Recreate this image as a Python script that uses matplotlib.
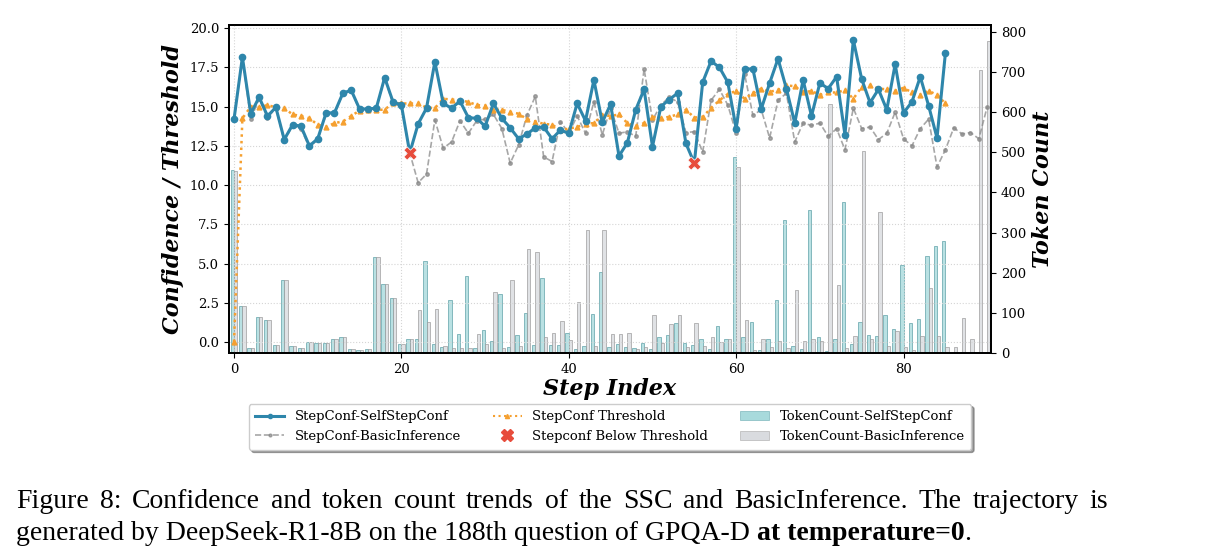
import matplotlib
matplotlib.use("Agg")
import matplotlib.pyplot as plt
from matplotlib.lines import Line2D
from matplotlib.patches import Patch
import numpy as np

# confidence per step (left axis)
conf_ssc = [14.2, 18.15, 14.55, 15.6, 14.4, 14.95, 12.9, 13.85, 13.75, 12.5,
            12.95, 14.6, 14.6, 15.85, 16.05, 14.85, 14.85, 14.9, 16.85, 15.3,
            15.1, 12.05, 13.9, 14.9, 17.85, 15.2, 14.9, 15.35, 14.3, 14.25,
            13.75, 15.2, 14.25, 13.65, 12.95, 13.25, 13.65, 13.7, 12.95, 13.5,
            13.3, 15.2, 14.1, 16.7, 14.0, 15.15, 11.85, 12.7, 14.8, 16.1,
            12.45, 15.0, 15.45, 15.85, 12.65, 11.4, 16.55, 17.9, 17.5, 16.55,
            13.6, 17.4, 17.4, 14.85, 16.5, 18.05, 16.15, 13.95, 16.7, 14.4,
            16.5, 16.15, 16.9, 13.2, 19.25, 16.75, 15.25, 16.1, 14.8, 17.7,
            14.6, 15.3, 16.9, 15.05, 13.0, 18.4]
conf_basic = [14.2, 18.1, 14.2, 15.5, 14.3, 14.9, 12.8, 13.8, 13.6, 12.4,
              12.9, 14.5, 14.6, 15.8, 16.0, 14.8, 14.8, 14.9, 16.8, 15.2,
              15.0, 12.05, 10.15, 10.7, 14.15, 12.35, 12.75, 14.1, 13.3, 14.1,
              14.2, 14.5, 13.6, 11.4, 12.55, 14.45, 15.65, 11.8, 11.5, 14.05,
              13.3, 14.4, 13.3, 15.3, 13.2, 14.9, 13.3, 13.4, 13.1, 17.4,
              14.15, 15.1, 15.6, 15.3, 13.35, 13.4, 12.1, 15.4, 16.1, 15.1,
              13.3, 17.1, 14.45, 14.8, 13.0, 15.4, 15.85, 12.75, 13.95, 13.8,
              13.95, 13.1, 13.6, 12.25, 14.9, 13.6, 13.7, 12.9, 13.3, 14.65,
              12.95, 12.5, 13.6, 14.2, 11.15, 12.25, 13.65, 13.25, 13.35, 12.95,
              15.0]
threshold = [0.0, 14.25, 15.0, 14.95, 15.1, 14.95, 14.9, 14.5, 14.4, 14.25,
             13.85, 13.7, 13.95, 14.05, 14.4, 14.75, 14.8, 14.8, 14.8, 15.25,
             15.2, 15.2, 15.2, 14.95, 14.9, 15.5, 15.45, 15.4, 15.3, 15.1,
             15.05, 14.8, 14.8, 14.65, 14.55, 14.2, 14.05, 13.9, 13.85, 13.5,
             13.6, 13.7, 13.9, 13.95, 14.45, 14.4, 14.5, 13.95, 13.75, 13.95,
             14.35, 14.25, 14.35, 14.5, 14.8, 14.3, 14.35, 14.9, 15.4, 15.8,
             16.0, 15.5, 15.85, 16.15, 15.95, 16.05, 16.35, 16.3, 15.9, 16.0,
             15.75, 15.9, 15.9, 16.05, 15.5, 16.25, 16.35, 16.15, 16.1, 16.0,
             16.2, 15.9, 15.75, 16.0, 15.75, 15.2]
below_steps = [21, 55]

# token counts per step (right axis)
tok_ssc = [456, 116, 12, 89, 81, 20, 181, 17, 12, 27,
           24, 26, 35, 41, 9, 8, 9, 238, 173, 136,
           22, 36, 36, 229, 22, 16, 132, 47, 193, 12,
           57, 30, 146, 14, 45, 99, 20, 186, 20, 20,
           51, 9, 17, 97, 201, 15, 22, 15, 12, 25,
           10, 40, 45, 75, 26, 20, 36, 9, 67, 34,
           489, 40, 76, 7, 36, 132, 332, 17, 9, 355,
           41, 5, 35, 375, 22, 76, 46, 42, 94, 61,
           220, 74, 84, 241, 267, 279]
tok_basic = [453, 116, 12, 89, 81, 20, 181, 17, 12, 27,
             24, 26, 35, 41, 9, 8, 9, 238, 173, 136,
             22, 36, 108, 77, 109, 17, 12, 12, 12, 47,
             22, 152, 12, 181, 17, 258, 251, 39, 51, 79,
             32, 126, 306, 17, 307, 47, 47, 49, 10, 16,
             94, 25, 72, 94, 16, 74, 17, 40, 27, 34,
             462, 81, 7, 36, 14, 29, 12, 156, 30, 35,
             30, 621, 169, 12, 42, 504, 35, 351, 17, 55,
             16, 7, 42, 163, 42, 16, 14, 86, 36, 705,
             778]

c_blue = "#2E86AB"
c_gray = "#8a8a8a"
c_orange = "#F5A030"
c_red = "#E74C3C"
c_teal = "#A8DADC"
c_lgray = "#D9DBDF"

fig = plt.figure(figsize=(12.18, 5.58), dpi=100)
ax = fig.add_axes([229/1218, 1-353/558, (991-229)/1218, (353-25)/558])
ax2 = ax.twinx()
ax.set_zorder(ax2.get_zorder() + 1)
ax.patch.set_visible(False)

x_ssc = np.arange(len(tok_ssc))
x_basic = np.arange(len(tok_basic))
w = 0.4
ax2.bar(x_ssc - w/2, tok_ssc, width=w, color=c_teal, edgecolor="#5a9ea6",
        linewidth=0.6, alpha=0.8)
ax2.bar(x_basic + w/2, tok_basic, width=w, color=c_lgray, edgecolor="#9a9a9a",
        linewidth=0.6, alpha=0.8)
ax2.set_ylim(0, max(tok_basic) * 1.05)
ax2.set_ylabel("Token Count", family="DejaVu Serif", fontsize=16,
               fontweight="bold", fontstyle="italic")

ax.plot(np.arange(len(conf_basic)), conf_basic, "--", color=c_gray,
        lw=1.2, marker="o", ms=2.5, alpha=0.75)
ax.plot(np.arange(len(threshold)), threshold, ":", color=c_orange,
        lw=1.8, marker="^", ms=3.5)
ax.plot(np.arange(len(conf_ssc)), conf_ssc, "-", color=c_blue,
        lw=2.2, marker="o", ms=4.5)
ax.scatter(below_steps, [conf_ssc[i] for i in below_steps], marker="X",
           s=90, color=c_red, zorder=5, linewidths=0.5, edgecolors="white")

ax.set_xlim(-0.6, 90.45)
ax.set_ylim(-0.7, 20.2)
ax.set_yticks(np.arange(0, 20.1, 2.5))
ax.set_xticks([0, 20, 40, 60, 80])
ax.grid(True, linestyle=":", color="#d5d5d5", lw=0.8)
ax.set_xlabel("Step Index", family="DejaVu Serif", fontsize=16,
              fontweight="bold", fontstyle="italic", labelpad=2)
ax.set_ylabel("Confidence / Threshold", family="DejaVu Serif", fontsize=16,
              fontweight="bold", fontstyle="italic")
for a in (ax, ax2):
    for lab in a.get_xticklabels() + a.get_yticklabels():
        lab.set_family("DejaVu Serif")
        lab.set_fontsize(9.5)
    for s in a.spines.values():
        s.set_linewidth(1.3)

handles = [
    Line2D([], [], color=c_blue, lw=2.2, marker="o", ms=3),
    Line2D([], [], color=c_gray, lw=1.2, ls="--", marker="o", ms=2, alpha=0.75),
    Line2D([], [], color=c_orange, lw=1.5, ls=":", marker="^", ms=3),
    Line2D([], [], color=c_red, lw=0, marker="X", ms=8),
    Patch(facecolor=c_teal, edgecolor="#7fb8bd", lw=0.5),
    Patch(facecolor=c_lgray, edgecolor="#b5b5b5", lw=0.5),
]
labels = ["StepConf-SelfStepConf", "StepConf-BasicInference",
          "StepConf Threshold", "Stepconf Below Threshold",
          "TokenCount-SelfStepConf", "TokenCount-BasicInference"]
ax.legend(handles, labels, loc="upper center", bbox_to_anchor=(0.5, -0.135),
          ncol=3, prop={"family": "DejaVu Serif", "size": 9.5},
          shadow=True, fancybox=True, columnspacing=2.4, handlelength=2.2,
          borderpad=0.5)

# caption, first line justified across the text block
cap = dict(family="Liberation Serif", fontsize=20, va="baseline")
W = fig.bbox.width
line1 = "Figure 8: Confidence and token count trends of the SSC and BasicInference.  The trajectory is"
words = line1.replace(".  ", ". ").split(" ")
r = fig.canvas.get_renderer()
tw = []
for wd in words:
    tt = fig.text(0, 0, wd, **cap)
    tw.append(tt.get_window_extent(renderer=r).width)
    tt.remove()
gap = (1108 - 16 - sum(tw)) / (len(words) - 1)
xp = 16
for wd, wdw in zip(words, tw):
    fig.text(xp / W, 1-508/558, wd, **cap)
    xp += wdw + gap

t = fig.text(16/W, 1-540/558,
             "generated by DeepSeek-R1-8B on the 188th question of GPQA-D ", **cap)
bb = t.get_window_extent(renderer=r)
t2 = fig.text(bb.x1 / W, 1-540/558, "at temperature=0", fontweight="bold", **cap)
bb2 = t2.get_window_extent(renderer=r)
fig.text(bb2.x1 / W, 1-540/558, ".", **cap)

fig.savefig("out.png", dpi=100)
